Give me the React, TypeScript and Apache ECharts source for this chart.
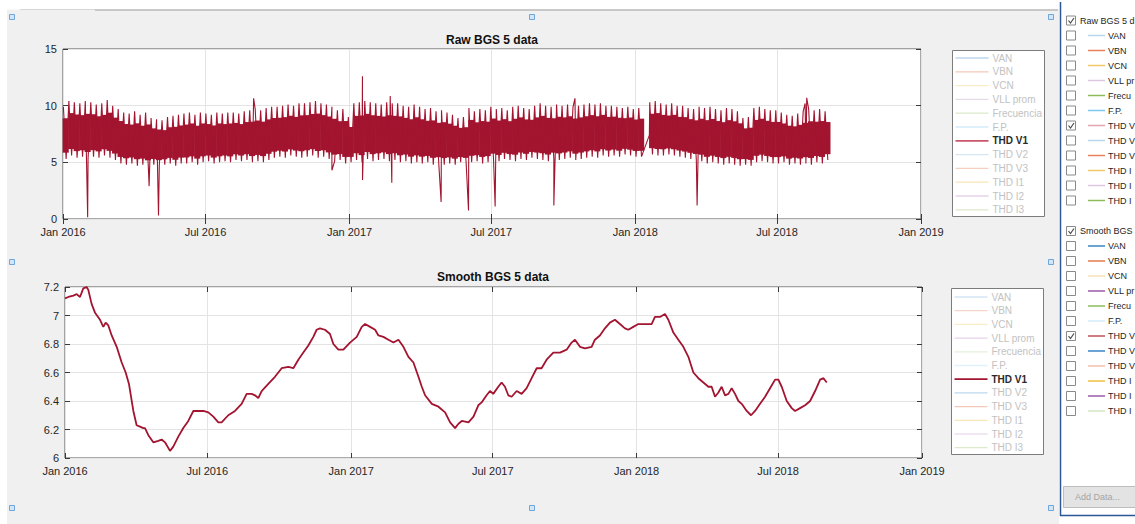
import React, { useEffect, useRef } from 'react';
import * as echarts from 'echarts';

const FONT = 'Arial, "Liberation Sans", Helvetica, sans-serif';
const MONTH_NAMES = ['Jan', 'Feb', 'Mar', 'Apr', 'May', 'Jun', 'Jul', 'Aug', 'Sep', 'Oct', 'Nov', 'Dec'];

const START_DATE = '2016-01-01';
const END_DATE = '2019-01-01';
const X_TICK_DATES = ['2016-01-01', '2016-07-01', '2017-01-01', '2017-07-01', '2018-01-01', '2018-07-01', '2019-01-01'];

const RAW_TITLE = 'Raw BGS 5 data';
const SMOOTH_TITLE = 'Smooth BGS 5 data';
const RAW_Y_MIN = 0;
const RAW_Y_MAX = 15;
const RAW_Y_STEP = 5;
const SMOOTH_Y_MIN = 6;
const SMOOTH_Y_MAX = 7.2;
const SMOOTH_Y_STEP = 0.2;

const SERIES_NAMES = ['VAN', 'VBN', 'VCN', 'VLL prom', 'Frecuencia', 'F.P.', 'THD V1', 'THD V2', 'THD V3', 'THD I1', 'THD I2', 'THD I3'];
const ACTIVE_SERIES = 'THD V1';
const PANEL_HEADERS = ['Raw BGS 5 data', 'Smooth BGS 5 data'];

// Raw THD V1: weekly upper and lower extremes (week i starts i*7 days after START_DATE)
const RAW_WEEK_HIGH: (number | null)[] = [
  9.9, 10.4, 10.3, 10.2, 10.4, 10.3, 10.1, 10.2, 10.5, 10.0, 9.7, 9.4, 9.3,
  9.5, 9.2, 9.4, 8.9, 8.8, 8.7, 9.0, 9.1, 9.2, 9.3, 9.4, 9.2, 9.4,
  9.3, 9.2, 9.4, 9.3, 9.4, 9.4, 9.3, 9.5, 9.6, 9.7, 9.6, 9.8, 9.9,
  9.9, 10.0, 10.1, 10.0, 10.2, 10.2, 10.3, 10.4, 10.2, 10.1, 9.9, 9.6, 9.7, 9.0,
  10.2, 10.3, 10.4, 10.3, 10.2, 10.1, 10.3, 10.2, 10.2, 10.0, 9.9, 10.1,
  9.9, 9.7, 9.8, 9.5, 9.6, 9.4, 9.2, 8.9, 9.0, 9.8, 9.5, 9.7, 9.6,
  9.9, 9.7, 9.8, 9.6, 9.9, 10.0, 9.8, 9.7, 10.0, 10.2, 10.0, 9.9, 10.1,
  10.0, 10.1, 9.9, 10.0, 10.1, 10.2, 10.1, 10.2, 10.0, 10.0, 9.9, 9.8, 9.9, 9.7,
  9.8, null, 10.3, 10.4, 10.2, 10.1, 10.2, 10.0, 10.0, 9.8, 9.7, 9.9,
  9.8, 9.9, 9.7, 9.6, 9.8, 9.7, 9.5, 8.9, 9.0, 9.8, 9.9, 9.7, 9.6,
  9.6, 9.4, 9.2, 9.1, 9.3, 9.5, 9.7, 9.6, 9.7, 9.5,
];
const RAW_WEEK_LOW: (number | null)[] = [
  5.3, 5.6, 5.4, 5.5, 5.3, 5.5, 5.4, 5.6, 5.4, 5.2, 4.9, 4.8, 4.9,
  4.7, 4.8, 4.6, 4.8, 4.7, 4.8, 4.9, 4.7, 4.9, 4.9, 5.0, 4.8, 5.0,
  5.1, 4.9, 5.0, 5.1, 5.0, 5.2, 5.1, 5.2, 5.0, 5.1, 5.0, 5.2, 5.4,
  5.5, 5.4, 5.6, 5.5, 5.4, 5.5, 5.6, 5.4, 5.5, 5.3, 5.1, 5.2, 4.9, 5.0,
  5.2, 5.0, 5.3, 5.1, 5.2, 5.3, 5.1, 5.2, 5.0, 5.1, 4.9, 5.0,
  4.9, 5.0, 4.8, 4.9, 4.8, 4.9, 4.8, 5.0, 4.9, 5.0, 5.1, 4.9, 5.0,
  5.2, 5.1, 5.3, 5.2, 5.1, 5.3, 5.2, 5.4, 5.3, 5.2, 5.1, 5.3, 5.2,
  5.3, 5.4, 5.2, 5.3, 5.4, 5.5, 5.4, 5.6, 5.5, 5.6, 5.5, 5.7, 5.6, 5.5,
  5.5, null, 5.7, 5.6, 5.6, 5.7, 5.6, 5.5, 5.4, 5.3, 5.2, 5.1,
  4.9, 5.0, 4.9, 4.8, 4.9, 4.8, 4.7, 4.8, 4.7, 5.0, 5.1, 5.0, 4.9,
  4.9, 5.0, 4.8, 4.9, 4.8, 4.9, 4.8, 5.0, 4.9, 5.2,
];
// isolated spikes (days after START_DATE, value)
const RAW_SPIKE_DAYS = [31.5, 110, 122, 243.5, 343.5, 382.5, 382.6, 418, 420, 483, 518, 552, 627, 654, 810, 948, 950];
const RAW_SPIKE_VALUES = [0.15, 2.9, 0.3, 10.65, 4.3, 12.6, 3.45, 10.85, 3.2, 1.5, 0.75, 1.1, 1.2, 10.65, 1.2, 10.2, 10.7];
// straight segment across the January 2018 data gap
const RAW_BRIDGE_DAY = 749;
const RAW_BRIDGE_VALUE = 7.4;

// Smoothed THD V1 (days after START_DATE, value)
const SMOOTH_DAYS = [
  0, 4.3, 10.7, 14.9, 19.2, 23.4, 27.7, 29.8, 34.1, 38.4, 44.8, 49.0, 52.0, 55.4, 59.7, 66.1, 72.5, 77.6, 81.8, 87.4,
  91.6, 95.9, 100.2, 102.3, 106.6, 112.9, 119.3, 123.6, 127.9, 134.3, 138.5, 144.9, 151.3, 157.7, 164.1, 170.5, 176.9,
  183.3, 189.7, 196.1, 200.3, 208.8, 217.4, 225.9, 232.3, 238.7, 243.0, 247.2, 251.5, 260.0, 268.5, 277.1, 285.6,
  292.0, 298.4, 304.8, 311.2, 317.6, 321.8, 326.1, 332.5, 338.9, 343.2, 349.6, 356.0, 364.5, 373.1, 379.5, 383.8,
  390.2, 396.6, 400.8, 407.2, 413.6, 420.0, 426.4, 432.8, 439.2, 445.6, 452.0, 456.3, 460.5, 469.1, 477.6, 486.1,
  492.5, 498.9, 503.2, 507.5, 516.0, 522.4, 528.6, 532.8, 539.2, 543.5, 547.7, 554.1, 558.4, 562.7, 566.9, 571.2,
  577.6, 584.0, 590.4, 596.8, 603.2, 609.5, 615.9, 624.5, 633.0, 641.5, 647.9, 652.2, 658.6, 665.0, 673.5, 677.7,
  684.1, 690.5, 696.9, 703.3, 709.7, 716.1, 720.4, 726.8, 733.2, 750.2, 754.5, 760.9, 767.3, 771.6, 778.0, 784.4,
  790.8, 797.2, 803.6, 810.0, 816.4, 822.8, 827.0, 831.3, 835.6, 839.8, 844.1, 848.4, 852.6, 856.9, 861.2, 865.4,
  871.8, 877.4, 882.5, 888.9, 895.3, 901.7, 908.1, 912.3, 916.6, 923.0, 929.4, 933.7, 940.1, 946.5, 952.9, 959.3,
  965.7, 970.0, 974.2,
];
const SMOOTH_VALUES = [
  7.12, 7.13, 7.14, 7.15, 7.13, 7.19, 7.20, 7.18, 7.08, 7.02, 6.97, 6.92, 6.95, 6.93, 6.86, 6.78, 6.67, 6.60, 6.52, 6.33,
  6.23, 6.22, 6.21, 6.21, 6.16, 6.11, 6.12, 6.13, 6.11, 6.05, 6.08, 6.15, 6.21, 6.26, 6.33, 6.33, 6.33,
  6.32, 6.29, 6.25, 6.25, 6.30, 6.33, 6.38, 6.45, 6.45, 6.44, 6.42, 6.47, 6.52, 6.57, 6.63, 6.64,
  6.63, 6.69, 6.74, 6.79, 6.85, 6.90, 6.91, 6.90, 6.87, 6.80, 6.76, 6.76, 6.81, 6.85, 6.92, 6.94,
  6.92, 6.90, 6.86, 6.85, 6.83, 6.81, 6.83, 6.78, 6.71, 6.67, 6.57, 6.50, 6.44, 6.38, 6.36, 6.32,
  6.25, 6.21, 6.24, 6.26, 6.25, 6.29, 6.37, 6.39, 6.44, 6.47, 6.45, 6.50, 6.53, 6.50, 6.44, 6.43,
  6.47, 6.45, 6.49, 6.56, 6.63, 6.63, 6.69, 6.74, 6.74, 6.76, 6.81, 6.83, 6.78, 6.77, 6.78, 6.83,
  6.86, 6.91, 6.95, 6.97, 6.94, 6.91, 6.90, 6.92, 6.94, 6.94, 6.99, 6.99, 7.01, 6.97, 6.88, 6.83,
  6.78, 6.71, 6.60, 6.56, 6.53, 6.50, 6.50, 6.43, 6.46, 6.50, 6.44, 6.45, 6.49, 6.45, 6.40, 6.38,
  6.33, 6.30, 6.33, 6.38, 6.43, 6.49, 6.55, 6.55, 6.50, 6.40, 6.35, 6.33, 6.35, 6.37, 6.40, 6.47,
  6.55, 6.56, 6.53,
];

// styles
const DATA_RED = '#A2142F';
const LEGEND_RAW_COLORS = ['#bcd7ee', '#f3c8b8', '#f8ecc9', '#e8d9eb', '#dbeacb', '#d3ecf8', '#c9566a', '#d4e5f3', '#f6cfbf', '#f8e6b3', '#e6d3e9', '#dbeacb'];
const LEGEND_SMOOTH_COLORS = ['#d4e5f3', '#f6d6ca', '#f8ecc9', '#e6d3e9', '#e4efd8', '#e0f1fa', '#A2142F', '#bcd7ee', '#f3c8b8', '#f8e6b3', '#ecdfee', '#dbeacb'];
const PANEL_RAW_COLORS = ['#b8d5ee', '#e8825a', '#f2c96a', '#dcc6e2', '#8cbc5a', '#7cc8ef', '#e4a5b0', '#b8d5ee', '#e8825a', '#f2c96a', '#dcc6e2', '#8cbc5a'];
const PANEL_SMOOTH_COLORS = ['#3a86c6', '#e57a4c', '#f7e3b5', '#9a5aa8', '#8cbc5a', '#d3ecf8', '#c0505f', '#3a86c6', '#f2c0ae', '#f0c040', '#9a5aa8', '#d6e6c2'];

function parseDate(s: string): number {
  const [y, m, d] = s.split('-').map(Number);
  return new Date(y, m - 1, d).getTime();
}
const T0 = parseDate(START_DATE);
const T1 = parseDate(END_DATE);
const DAY = 86400000;
const dayToTime = (d: number) => T0 + d * DAY;
const X_TICK_TIMES = X_TICK_DATES.map(parseDate);

function fmtDate(v: number) {
  const d = new Date(v + DAY / 2);
  return MONTH_NAMES[d.getMonth()] + ' ' + d.getFullYear();
}

function buildRaw() {
  const pts: [number, number][] = [];
  RAW_WEEK_HIGH.forEach((h, i) => {
    const l = RAW_WEEK_LOW[i];
    if (h == null || l == null) return;
    pts.push([dayToTime(i * 7 + 0.5), h]);
    pts.push([dayToTime(i * 7 + 4), l]);
  });
  RAW_SPIKE_DAYS.forEach((d, i) => pts.push([dayToTime(d), RAW_SPIKE_VALUES[i]]));
  pts.push([dayToTime(RAW_BRIDGE_DAY), RAW_BRIDGE_VALUE]);
  pts.sort((a, b) => a[0] - b[0]);
  // dense core of each week's oscillation (between the weekly extremes)
  const core: [number, number, number][] = [];
  RAW_WEEK_HIGH.forEach((h, i) => {
    const l = RAW_WEEK_LOW[i];
    if (h == null || l == null) return;
    const r = h - l;
    core.push([dayToTime(i * 7 + 3.5), l + 0.12 * r, h - 0.22 * r]);
  });
  return { pts, core };
}

function xAxes(gridIndex: number) {
  return [
    {
      type: 'value', gridIndex, min: T0, max: T1, position: 'bottom',
      axisLine: { show: false },
      axisTick: { show: true, inside: true, length: 5, customValues: X_TICK_TIMES, lineStyle: { color: '#3a3a3a' } },
      axisLabel: { customValues: X_TICK_TIMES, formatter: fmtDate, color: '#262626', fontSize: 11, fontFamily: FONT, margin: 7, showMinLabel: true, showMaxLabel: true },
      splitLine: { show: true, lineStyle: { color: '#e4e4e4', width: 1 } },
    },
    {
      type: 'value', gridIndex, min: T0, max: T1, position: 'top',
      axisLine: { show: false },
      axisTick: { show: true, inside: true, length: 5, customValues: X_TICK_TIMES, lineStyle: { color: '#3a3a3a' } },
      axisLabel: { show: false },
      splitLine: { show: false },
    },
  ];
}

function yAxes(gridIndex: number, min: number, max: number, interval: number) {
  return [
    {
      type: 'value', gridIndex, min, max, interval, position: 'left',
      axisLine: { show: false },
      axisTick: { show: true, inside: true, length: 5, lineStyle: { color: '#3a3a3a' } },
      axisLabel: { color: '#262626', fontSize: 11, fontFamily: FONT, margin: 6, formatter: (v: number) => String(Math.round(v * 10) / 10) },
      splitLine: { show: true, lineStyle: { color: '#e4e4e4', width: 1 } },
    },
    {
      type: 'value', gridIndex, min, max, interval, position: 'right',
      axisLine: { show: false },
      axisTick: { show: true, inside: true, length: 5, lineStyle: { color: '#3a3a3a' } },
      axisLabel: { show: false },
      splitLine: { show: false },
    },
  ];
}

function legendBox(x: number, y: number, w: number, h: number, firstY: number, step: number, colors: string[]) {
  const els: any[] = [
    { type: 'rect', shape: { x, y, width: w, height: h }, style: { fill: '#ffffff', stroke: '#7c7c7c', lineWidth: 1 } },
  ];
  SERIES_NAMES.forEach((name, k) => {
    const yy = firstY + k * step;
    const active = name === ACTIVE_SERIES;
    els.push({ type: 'line', shape: { x1: x + 3, y1: yy, x2: x + 36, y2: yy }, style: { stroke: colors[k], lineWidth: active ? 1.8 : 1.3 } });
    els.push({
      type: 'text', x: x + 40, y: yy,
      style: { text: name, font: (active ? 'bold ' : '') + '10px ' + FONT, fill: active ? '#2a2a2a' : '#c2c2c2', align: 'left', verticalAlign: 'middle' },
    });
  });
  return els;
}

function checkbox(yc: number, checked: boolean) {
  const els: any[] = [
    { type: 'rect', shape: { x: 1066.5, y: yc - 4.5, width: 9, height: 9 }, style: { fill: '#ffffff', stroke: '#8a8a8a', lineWidth: 1 } },
  ];
  if (checked) {
    els.push({ type: 'polyline', shape: { points: [[1068.5, yc], [1070.5, yc + 2.5], [1074, yc - 2.5]] }, style: { stroke: '#4a4a4a', lineWidth: 1.2, fill: null } });
  }
  return els;
}

// panel texts are cut at the window's right edge, as in the original screenshot
function panelText(x: number, y: number, text: string, fill: string) {
  return {
    type: 'text', x, y,
    style: { text, font: '9px ' + FONT, fill, align: 'left', verticalAlign: 'middle', width: 1137 - x, overflow: 'truncate', ellipsis: '' },
  };
}

function panelSection(headerY: number, header: string, colors: string[]) {
  const els: any[] = [...checkbox(headerY, true)];
  els.push(panelText(1080, headerY, header, '#1e1e1e'));
  SERIES_NAMES.forEach((name, k) => {
    const yy = headerY + 15 * (k + 1);
    els.push(...checkbox(yy, name === ACTIVE_SERIES));
    els.push({ type: 'line', shape: { x1: 1088, y1: yy, x2: 1105, y2: yy }, style: { stroke: colors[k], lineWidth: 1.5 } });
    els.push(panelText(1108, yy, name, '#1e1e1e'));
  });
  return els;
}

function handle(cx: number, cy: number) {
  return { type: 'rect', shape: { x: cx - 2.5, y: cy - 2.5, width: 5, height: 5 }, style: { fill: '#d3e6f8', stroke: '#6fa6dc', lineWidth: 1 } };
}

export default function App() {
  const ref = useRef<HTMLDivElement>(null);
  useEffect(() => {
    if (!ref.current) return;
    const chart = echarts.init(ref.current, undefined, { renderer: 'svg' });
    const raw = buildRaw();
    const smooth = SMOOTH_DAYS.map((d, i) => [dayToTime(d), SMOOTH_VALUES[i]]);

    const elements: any[] = [
      { type: 'rect', shape: { x: 0, y: 0, width: 7, height: 524 }, style: { fill: '#ffffff' } },
      { type: 'rect', shape: { x: 0, y: 0, width: 1135, height: 9.5 }, style: { fill: '#ffffff' } },
      { type: 'line', shape: { x1: 20, y1: 9.5, x2: 95, y2: 9.5 }, style: { stroke: '#d6d6d6', lineWidth: 1 } },
      { type: 'line', shape: { x1: 95, y1: 10, x2: 1058, y2: 10 }, style: { stroke: '#9c9c9c', lineWidth: 1 } },
      handle(12, 17), handle(532, 17), handle(1051, 17),
      handle(12, 262), handle(1051, 262),
      handle(12, 508), handle(532, 508), handle(1051, 508),
      { type: 'text', x: 492, y: 40, style: { text: RAW_TITLE, font: 'bold 12px ' + FONT, fill: '#111', align: 'center', verticalAlign: 'middle' } },
      { type: 'text', x: 493, y: 277, style: { text: SMOOTH_TITLE, font: 'bold 12px ' + FONT, fill: '#111', align: 'center', verticalAlign: 'middle' } },
      ...legendBox(952.5, 50.5, 92, 166, 58, 13.8, LEGEND_RAW_COLORS),
      ...legendBox(951.5, 288.5, 92, 166, 297, 13.7, LEGEND_SMOOTH_COLORS),
      // right-hand panel
      { type: 'rect', shape: { x: 1059, y: 0, width: 76, height: 524 }, style: { fill: '#ffffff' } },
      { type: 'line', shape: { x1: 1060.5, y1: 2, x2: 1060.5, y2: 516 }, style: { stroke: '#2b5797', lineWidth: 1.5 } },
      { type: 'line', shape: { x1: 1060, y1: 515.5, x2: 1135, y2: 515.5 }, style: { stroke: '#2b5797', lineWidth: 1.5 } },
      ...panelSection(20.5, PANEL_HEADERS[0], PANEL_RAW_COLORS),
      ...panelSection(231, PANEL_HEADERS[1], PANEL_SMOOTH_COLORS),
      { type: 'rect', shape: { x: 1063.5, y: 486.5, width: 80, height: 21 }, style: { fill: '#e3e3e3', stroke: '#bdbdbd', lineWidth: 1 } },
      panelText(1075, 497, 'Add Data...', '#a3a3a3'),
    ];

    chart.setOption({
      animation: false,
      backgroundColor: '#f0f0f0',
      textStyle: { fontFamily: FONT },
      grid: [
        { left: 63, top: 49, width: 858, height: 170, show: true, backgroundColor: '#ffffff', borderColor: '#555555', borderWidth: 1 },
        { left: 65, top: 287, width: 857, height: 171, show: true, backgroundColor: '#ffffff', borderColor: '#555555', borderWidth: 1 },
      ],
      xAxis: [...xAxes(0), ...xAxes(1)],
      yAxis: [
        ...yAxes(0, RAW_Y_MIN, RAW_Y_MAX, RAW_Y_STEP),
        ...yAxes(1, SMOOTH_Y_MIN, SMOOTH_Y_MAX, SMOOTH_Y_STEP),
      ],
      series: [
        {
          name: 'THD V1 core', type: 'custom', xAxisIndex: 0, yAxisIndex: 0, data: raw.core, silent: true,
          encode: { x: 0, y: [1, 2] },
          renderItem: (params: any, api: any) => {
            const t = api.value(0);
            const p1 = api.coord([t - 3.5 * DAY, api.value(2)]);
            const p2 = api.coord([t + 3.5 * DAY, api.value(1)]);
            return {
              type: 'rect',
              shape: { x: p1[0] - 0.3, y: p1[1], width: p2[0] - p1[0] + 0.6, height: p2[1] - p1[1] },
              style: { fill: DATA_RED },
            };
          },
        },
        {
          name: 'THD V1', type: 'line', xAxisIndex: 0, yAxisIndex: 0, data: raw.pts,
          symbol: 'none', showSymbol: false, silent: true, lineStyle: { color: DATA_RED, width: 1.1 },
        },
        {
          name: 'THD V1 smooth', type: 'line', xAxisIndex: 2, yAxisIndex: 2, data: smooth,
          symbol: 'none', showSymbol: false, silent: true, lineStyle: { color: DATA_RED, width: 1.8 },
        },
      ],
      graphic: { elements },
    });
    return () => chart.dispose();
  }, []);
  return <div ref={ref} style={{ position: 'fixed', left: 0, top: 0, width: 1135, height: 524 }} />;
}
